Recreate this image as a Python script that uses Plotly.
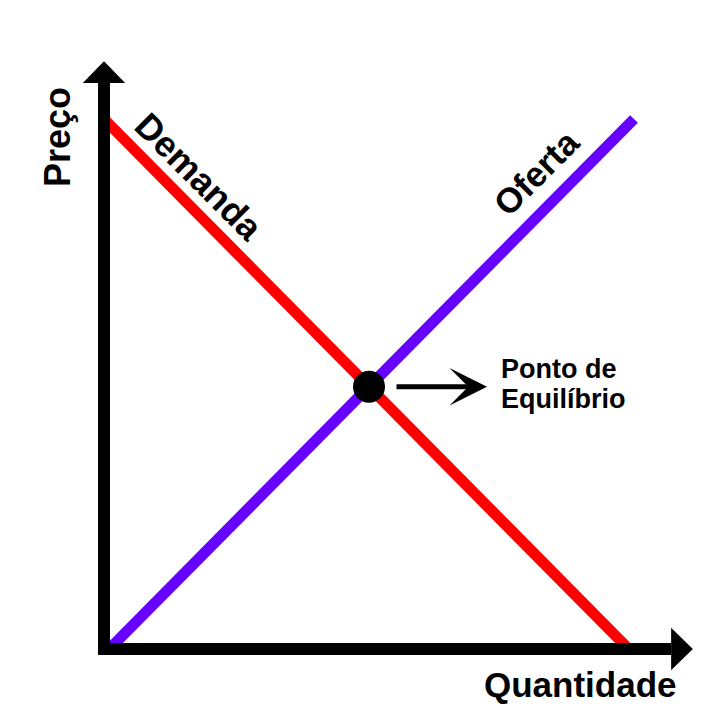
import plotly.graph_objects as go

# ---- data (quantity, price) ----
demand_q = [0, 99]
demand_p = [100, 0]
supply_q = [1, 100]
supply_p = [0, 100]
axis_q_max = 107.0      # end of horizontal axis line (arrow base)
axis_p_max = 106.8      # end of vertical axis line (arrow base)
arrow_len = 4.1
arrow_half = 4.0

labels = {"x": "Quantidade", "y": "Preço", "d": "Demanda", "s": "Oferta",
          "eq1": "Ponto de", "eq2": "Equilíbrio"}

# pixel mapping helpers (layout only); page has an 8px body margin
PAGE_OFF = 8
SC = 5.3
OX, OY = 104 - PAGE_OFF, 649 - PAGE_OFF
W, H = 717, 714
def q(px):
    return (px - OX) / SC
def p(py):
    return (OY - py) / SC
def qp(px):   # page pixel -> quantity
    return q(px - PAGE_OFF)
def pp(py):   # page pixel -> price
    return p(py - PAGE_OFF)

# equilibrium from the two lines
def line_coef(xs, ys):
    m = (ys[1] - ys[0]) / (xs[1] - xs[0])
    return m, ys[0] - m * xs[0]
md, bd = line_coef(demand_q, demand_p)
ms, bs = line_coef(supply_q, supply_p)
eq_q = (bs - bd) / (md - ms)
eq_p = md * eq_q + bd

fig = go.Figure()
fig.add_trace(go.Scatter(x=demand_q, y=demand_p, mode="lines",
                         line=dict(color="#FF0000", width=11), hoverinfo="skip"))
fig.add_trace(go.Scatter(x=supply_q, y=supply_p, mode="lines",
                         line=dict(color="#6600FF", width=11), hoverinfo="skip"))
fig.add_trace(go.Scatter(x=[eq_q], y=[eq_p], mode="markers",
                         marker=dict(color="black", size=32), hoverinfo="skip"))

lw = 12
ext = lw / 2 / SC
shapes = [
    dict(type="line", x0=0, x1=0, y0=-ext, y1=axis_p_max, xref="x", yref="y",
         line=dict(color="black", width=lw), layer="above"),
    dict(type="line", x0=-ext, x1=axis_q_max, y0=0, y1=0, xref="x", yref="y",
         line=dict(color="black", width=lw), layer="above"),
    dict(type="path", xref="x", yref="y", layer="above", fillcolor="black",
         line=dict(color="black", width=0),
         path=f"M {-arrow_half},{axis_p_max} L {arrow_half},{axis_p_max} L 0,{axis_p_max + arrow_len} Z"),
    dict(type="path", xref="x", yref="y", layer="above", fillcolor="black",
         line=dict(color="black", width=0),
         path=f"M {axis_q_max},{-arrow_half} L {axis_q_max},{arrow_half} L {axis_q_max + arrow_len},0 Z"),
]

FONT = "Liberation Sans, Arial, sans-serif"
ann = [
    dict(x=qp(580), y=pp(684), text=f"<b>{labels['x']}</b>", showarrow=False,
         xanchor="center", yanchor="middle", font=dict(size=35, color="black", family=FONT)),
    dict(x=qp(57), y=pp(137), text=f"<b>{labels['y']}</b>", showarrow=False, textangle=-90,
         xanchor="center", yanchor="middle", font=dict(size=36, color="black", family=FONT)),
    dict(x=qp(199), y=pp(176), text=f"<b>{labels['d']}</b>", showarrow=False, textangle=45,
         xanchor="center", yanchor="middle", font=dict(size=36, color="black", family=FONT)),
    dict(x=qp(536), y=pp(172), text=f"<b>{labels['s']}</b>", showarrow=False, textangle=-45,
         xanchor="center", yanchor="middle", font=dict(size=35, color="black", family=FONT)),
    dict(x=qp(499), y=pp(369), text=f"<b>{labels['eq1']}</b>", showarrow=False,
         xanchor="left", yanchor="middle", font=dict(size=27, color="black", family=FONT)),
    dict(x=qp(499), y=pp(399), text=f"<b>{labels['eq2']}</b>", showarrow=False,
         xanchor="left", yanchor="middle", font=dict(size=27, color="black", family=FONT)),
    dict(x=qp(487), y=eq_p, ax=-92, ay=0, axref="pixel", ayref="pixel", text="",
         showarrow=True, arrowhead=3, arrowsize=1.25, arrowwidth=5, arrowcolor="black",
         standoff=0),
]

fig.update_layout(
    width=W, height=H, autosize=False,
    margin=dict(l=0, r=0, t=0, b=0),
    paper_bgcolor="white", plot_bgcolor="white",
    showlegend=False,
    xaxis=dict(range=[q(0), q(W)], visible=False, fixedrange=True),
    yaxis=dict(range=[p(H), p(0)], visible=False, fixedrange=True),
    shapes=shapes, annotations=ann,
)

fig.write_html("out.html")
